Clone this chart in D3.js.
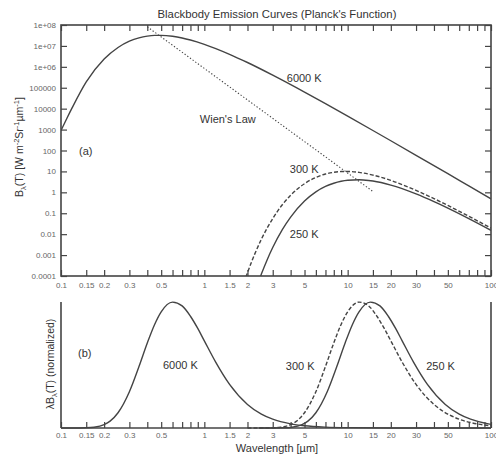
<!DOCTYPE html>
<html>
<head>
<meta charset="utf-8">
<script src="https://cdn.jsdelivr.net/npm/d3@7"></script>
<style>
  body { margin: 0; background: #fff; }
  svg { font-family: "Liberation Sans", Arial, sans-serif; }
</style>
</head>
<body>
<svg width="496" height="457"></svg>
<script>
// wavelengths in um, B in W m-2 sr-1 um-1
const wl6000 = [0.1, 0.11, 0.12, 0.15, 0.2, 0.25, 0.3, 0.35, 0.4, 0.45, 0.5, 0.6, 0.7, 0.8, 1, 1.5, 2, 3, 5, 7, 10, 15, 20, 30, 50, 70, 100];
const b6000 = [900, 3500, 1.15e4, 1.9e5, 2.35e6, 8.4e6, 1.68e7, 2.43e7, 2.94e7, 3.18e7, 3.2e7, 2.88e7, 2.39e7, 1.91e7, 1.19e7, 3.97e6, 1.61e6, 4.0e5, 6.2e4, 1.73e4, 4400, 905, 292, 58.9, 7.76, 2.03, 0.49];

const wl300 = [1.95, 2, 2.25, 2.5, 3, 3.5, 4, 5, 6, 7, 8, 9, 10, 12, 15, 20, 30, 40, 50, 70, 100];
const b300 = [8.8e-5, 1.44e-4, 1.14e-3, 5.7e-3, 0.0558, 0.255, 0.72, 2.6, 5.17, 7.5, 9.08, 9.83, 9.93, 8.96, 6.69, 3.72, 1.24, 0.502, 0.237, 0.072, 0.0194];

const wl250 = [2.4, 2.5, 2.75, 3, 3.5, 4, 5, 6, 7, 8, 9, 10, 12, 14, 15, 20, 30, 40, 50, 70, 100];
const b250 = [5.8e-5, 1.23e-4, 6.2e-4, 2.29e-3, 0.0165, 0.0656, 0.382, 1.05, 1.91, 2.73, 3.38, 3.78, 3.99, 3.69, 3.46, 2.22, 0.844, 0.362, 0.176, 0.0556, 0.0153];

// Wien's displacement line (end points)
const wlWien = [0.4, 15];
const bWien = [8.2e7, 1.1];

// normalized lambda*B (bottom panel)
const nwl6000 = [0.1, 0.12, 0.15, 0.17, 0.2, 0.22, 0.25, 0.3, 0.35, 0.4, 0.45, 0.5, 0.6, 0.7, 0.8, 0.9, 1, 1.2, 1.5, 2, 2.5, 3, 4, 5, 7, 10, 20, 100];
const n6000 = [0, 0, 0.0016, 0.0062, 0.0268, 0.0545, 0.121, 0.288, 0.488, 0.675, 0.822, 0.922, 0.999, 0.969, 0.887, 0.79, 0.692, 0.523, 0.346, 0.187, 0.11, 0.0697, 0.0329, 0.018, 0.007, 0.0026, 0.0003, 0];

const nwl300 = [2, 3, 3.4, 4, 4.4, 5, 6, 7, 8, 9, 10, 12, 14, 16, 18, 20, 24, 30, 40, 50, 60, 80, 100];
const n300 = [0, 0.0016, 0.0062, 0.0268, 0.0545, 0.121, 0.288, 0.488, 0.675, 0.822, 0.922, 0.999, 0.969, 0.887, 0.79, 0.692, 0.523, 0.346, 0.187, 0.11, 0.0697, 0.0329, 0.018];

const nwl250 = [2.4, 3.6, 4.08, 4.8, 5.28, 6, 7.2, 8.4, 9.6, 10.8, 12, 14.4, 16.8, 19.2, 21.6, 24, 28.8, 36, 48, 60, 72, 96, 100];
const n250 = [0, 0.0016, 0.0062, 0.0268, 0.0545, 0.121, 0.288, 0.488, 0.675, 0.822, 0.922, 0.999, 0.969, 0.887, 0.79, 0.692, 0.523, 0.346, 0.187, 0.11, 0.0697, 0.0329, 0.0295];

// ticks
const xTicks = [0.1, 0.15, 0.2, 0.3, 0.4, 0.5, 0.6, 0.7, 0.8, 0.9, 1, 1.5, 2, 3, 4, 5, 6, 7, 8, 9, 10, 15, 20, 30, 40, 50, 60, 70, 80, 90, 100];
const xLabels = ["0.1", "0.15", "0.2", "0.3", "0.5", "1", "1.5", "2", "3", "5", "10", "15", "20", "30", "50", "100"];
const yTicks = [1e-4, 1e-3, 1e-2, 0.1, 1, 10, 100, 1e3, 1e4, 1e5, 1e6, 1e7, 1e8];
const yLabels = ["0.0001", "0.001", "0.01", "0.1", "1", "10", "100", "1000", "10000", "100000", "1e+06", "1e+07", "1e+08"];

const svg = d3.select('svg');
const ink = '#444';

const x = d3.scaleLog().domain([0.1, 100]).range([61, 491]);
const yTop = d3.scaleLog().domain([1e-4, 1e8]).range([276, 25]);
const yBot = d3.scaleLinear().domain([0, 1]).range([428, 302]);

svg.append('defs').append('clipPath').attr('id', 'clipTop')
    .append('rect').attr('x', x(0.1)).attr('y', yTop(1e8))
    .attr('width', x(100) - x(0.1)).attr('height', yTop(1e-4) - yTop(1e8));

// title
svg.append('text').attr('x', 277).attr('y', 17.5).attr('text-anchor', 'middle')
    .attr('font-size', 11.3).attr('fill', '#333')
    .text("Blackbody Emission Curves (Planck's Function)");

function styleAxis(g, showText) {
    g.select('.domain').remove();
    g.selectAll('.tick line').attr('stroke', ink).attr('stroke-width', 1.2);
    g.selectAll('.tick text').attr('fill', '#666').attr('font-size', 8)
        .attr('font-family', '"Liberation Sans", Arial, sans-serif');
    if (!showText) g.selectAll('.tick text').remove();
}

const fmtX = d => { const s = String(d); return xLabels.includes(s) ? s : ''; };

// ---- top panel axes
svg.append('g').attr('transform', `translate(0,${yTop(1e-4)})`)
    .call(d3.axisBottom(x).tickValues(xTicks).tickFormat(fmtX).tickSize(-6).tickPadding(6))
    .call(g => styleAxis(g, true));
svg.append('g').attr('transform', `translate(0,${yTop(1e8)})`)
    .call(d3.axisTop(x).tickValues(xTicks).tickSize(-6))
    .call(g => styleAxis(g, false));
svg.append('g').attr('transform', `translate(${x(0.1)},0)`)
    .call(d3.axisLeft(yTop).tickValues(yTicks).tickFormat((d, i) => yLabels[i]).tickSize(-6).tickPadding(5))
    .call(g => styleAxis(g, true));
svg.append('g').attr('transform', `translate(${x(100)},0)`)
    .call(d3.axisRight(yTop).tickValues(yTicks).tickSize(-6))
    .call(g => styleAxis(g, false));

svg.append('rect').attr('x', x(0.1)).attr('y', yTop(1e8))
    .attr('width', x(100) - x(0.1)).attr('height', yTop(1e-4) - yTop(1e8))
    .attr('fill', 'none').attr('stroke', ink).attr('stroke-width', 1.6);

// ---- top panel curves
const lineTop = d3.line().x(d => x(d[0])).y(d => yTop(d[1])).curve(d3.curveMonotoneX);
const topSeries = [
    { wl: wl6000, v: b6000, dash: null },
    { wl: wl300, v: b300, dash: '4,2' },
    { wl: wl250, v: b250, dash: null },
    { wl: wlWien, v: bWien, dash: '1.3,2' }
];
const gTop = svg.append('g').attr('clip-path', 'url(#clipTop)');
topSeries.forEach(s => {
    gTop.append('path')
        .datum(s.wl.map((w, i) => [w, s.v[i]]))
        .attr('d', lineTop)
        .attr('fill', 'none').attr('stroke', ink)
        .attr('stroke-width', s.dash === '1.3,2' ? 1.1 : 1.4)
        .attr('stroke-dasharray', s.dash);
});

// ---- bottom panel axes
svg.append('g').attr('transform', `translate(0,${yBot(0)})`)
    .call(d3.axisBottom(x).tickValues(xTicks).tickFormat(fmtX).tickSize(-6).tickPadding(4))
    .call(g => styleAxis(g, true));
svg.append('line').attr('x1', x(0.1)).attr('x2', x(100)).attr('y1', yBot(0)).attr('y2', yBot(0))
    .attr('stroke', ink).attr('stroke-width', 1.6);
[0.1, 100].forEach(w => {
    svg.append('line').attr('x1', x(w)).attr('x2', x(w)).attr('y1', yBot(0)).attr('y2', yBot(1))
        .attr('stroke', ink).attr('stroke-width', 1.6);
});

// ---- bottom panel curves
const lineBot = d3.line().x(d => x(d[0])).y(d => yBot(d[1])).curve(d3.curveMonotoneX);
const botSeries = [
    { wl: nwl6000, v: n6000, dash: null },
    { wl: nwl300, v: n300, dash: '4,2' },
    { wl: nwl250, v: n250, dash: null }
];
botSeries.forEach(s => {
    svg.append('path')
        .datum(s.wl.map((w, i) => [w, s.v[i]]))
        .attr('d', lineBot)
        .attr('fill', 'none').attr('stroke', ink).attr('stroke-width', 1.4)
        .attr('stroke-dasharray', s.dash);
});

// ---- annotations
const topNotes = [
    ['6000 K', 3.76, 1.8e5], ["Wien's Law", 0.93, 2100], ['(a)', 0.1335, 62],
    ['300 K', 3.95, 8.4], ['250 K', 3.95, 0.0063]
];
topNotes.forEach(n => {
    svg.append('text').attr('x', x(n[1])).attr('y', yTop(n[2]))
        .attr('font-size', 11).attr('fill', '#333').text(n[0]);
});
const botNotes = [
    ['(b)', 0.1314, 0.56], ['6000 K', 0.514, 0.468], ['300 K', 3.7, 0.464], ['250 K', 35.3, 0.464]
];
botNotes.forEach(n => {
    svg.append('text').attr('x', x(n[1])).attr('y', yBot(n[2]))
        .attr('font-size', 11).attr('fill', '#333').text(n[0]);
});

// axis titles
svg.append('text').attr('x', 277).attr('y', 452).attr('text-anchor', 'middle')
    .attr('font-size', 11).attr('fill', '#333').text('Wavelength [\u00b5m]');

const yt = svg.append('text').attr('transform', 'translate(23,147) rotate(-90)')
    .attr('text-anchor', 'middle').attr('font-size', 10.5).attr('fill', '#333');
yt.append('tspan').text('B');
yt.append('tspan').attr('font-size', 7.5).attr('dy', 3).text('\u03bb');
yt.append('tspan').attr('dy', -3).text('(T) [W m');
yt.append('tspan').attr('font-size', 7.5).attr('dy', -4).text('-2');
yt.append('tspan').attr('dy', 4).text('Sr');
yt.append('tspan').attr('font-size', 7.5).attr('dy', -4).text('-1');
yt.append('tspan').attr('dy', 4).text('\u00b5m');
yt.append('tspan').attr('font-size', 7.5).attr('dy', -4).text('-1');
yt.append('tspan').attr('dy', 4).text(']');

const yb = svg.append('text').attr('transform', 'translate(54,364) rotate(-90)')
    .attr('text-anchor', 'middle').attr('font-size', 10.5).attr('fill', '#333');
yb.append('tspan').text('\u03bbB');
yb.append('tspan').attr('font-size', 7.5).attr('dy', 3).text('\u03bb');
yb.append('tspan').attr('dy', -3).text('(T) (normalized)');
</script>
</body>
</html>
